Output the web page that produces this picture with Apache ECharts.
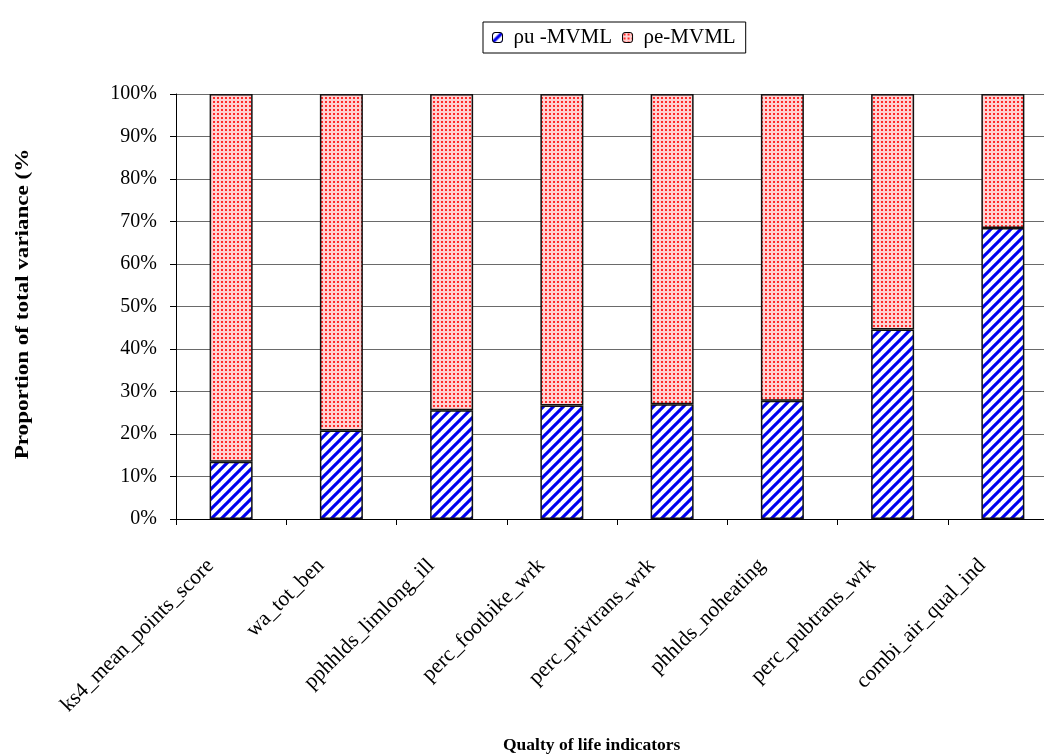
<!DOCTYPE html>
<html><head><meta charset="utf-8">
<script src="https://cdn.jsdelivr.net/npm/echarts@6/dist/echarts.min.js"></script>
<style>html,body{margin:0;padding:0;background:#fff;overflow:hidden;width:1044px;height:756px}#c{width:1070px;height:756px}</style>
</head><body><div id="c"></div>
<script>
const categories = ['ks4_mean_points_score','wa_tot_ben','pphhlds_limlong_ill','perc_footbike_wrk','perc_privtrans_wrk','phhlds_noheating','perc_pubtrans_wrk','combi_air_qual_ind'];
const rhoU = [13.5, 20.8, 25.6, 26.7, 27.0, 27.8, 44.6, 68.5];
const rhoE = [86.5, 79.2, 74.4, 73.3, 73.0, 72.2, 55.4, 31.5];
const yTicks = [0,10,20,30,40,50,60,70,80,90,100];

function stripe(){
  const P=10;
  const c=document.createElement('canvas');c.width=P;c.height=P;
  const g=c.getContext('2d');g.fillStyle='#fff';g.fillRect(0,0,P,P);
  g.strokeStyle='#0000ee';g.lineWidth=3.1;
  for(let k=-1;k<=1;k++){g.beginPath();g.moveTo(k*P-2,P+2);g.lineTo(k*P+P+2,-2);g.stroke();}
  return c;
}
function dots(){
  const c=document.createElement('canvas');c.width=4;c.height=4;
  const g=c.getContext('2d');g.fillStyle='#ffd2d2';g.fillRect(0,0,4,4);
  g.fillStyle='#ff2a2a';g.fillRect(1,1,2,2);
  return c;
}
const blueFill={image:stripe(),repeat:'repeat'};
const redFill={image:dots(),repeat:'repeat'};
const FF='"Liberation Serif","Times New Roman",serif';

const chart=echarts.init(document.getElementById('c'),null,{renderer:'canvas'});
chart.setOption({
  animation:false,
  textStyle:{fontFamily:FF},
  grid:{left:176,top:94,width:882,height:425,containLabel:false},
  legend:{
    left:483,top:22,itemGap:10,padding:[5,10,5,9],
    borderColor:'#000',borderWidth:1,
    itemWidth:10,itemHeight:10,
    textStyle:{fontFamily:FF,fontSize:21,color:'#000',padding:[0,0,0,6]},
    itemStyle:{borderColor:'#000',borderWidth:1},
    data:['ρu -MVML','ρe-MVML']
  },
  xAxis:{
    type:'category',data:categories,
    axisLine:{lineStyle:{color:'#000',width:1}},
    axisTick:{show:true,length:6,alignWithLabel:false,lineStyle:{color:'#000'}},
    axisLabel:{rotate:45,margin:23,padding:[0,29,0,0],fontSize:21.5,color:'#000',fontFamily:FF,interval:0}
  },
  yAxis:{
    type:'value',min:0,max:100,interval:10,
    axisLine:{show:true,lineStyle:{color:'#000'}},
    axisTick:{show:true,length:6,inside:false,lineStyle:{color:'#000'}},
    axisLabel:{margin:19,fontSize:20,color:'#000',fontFamily:FF,formatter:v=>yTicks.includes(v)?v+'%':''},
    splitLine:{show:true,lineStyle:{color:'#6a6a6a',width:1}}
  },
  graphic:[
    {type:'text',left:503,top:736,
     style:{text:'Qualty of life indicators',font:'bold 17.5px "Liberation Serif"',fill:'#000'}},
    {type:'text',x:23,y:304,rotation:Math.PI/2,scaleX:1.28,scaleY:1,
     style:{text:'Proportion of total variance (%',font:'bold 18px "Liberation Serif"',fill:'#000',align:'center',verticalAlign:'middle'}}
  ],
  series:[
    {name:'ρu -MVML',type:'bar',stack:'t',barWidth:43,data:rhoU,
     itemStyle:{color:blueFill,borderColor:'#111',borderWidth:1.5}},
    {name:'ρe-MVML',type:'bar',stack:'t',barWidth:43,data:rhoE,
     itemStyle:{color:redFill,borderColor:'#111',borderWidth:1.5}}
  ]
});
</script></body></html>
